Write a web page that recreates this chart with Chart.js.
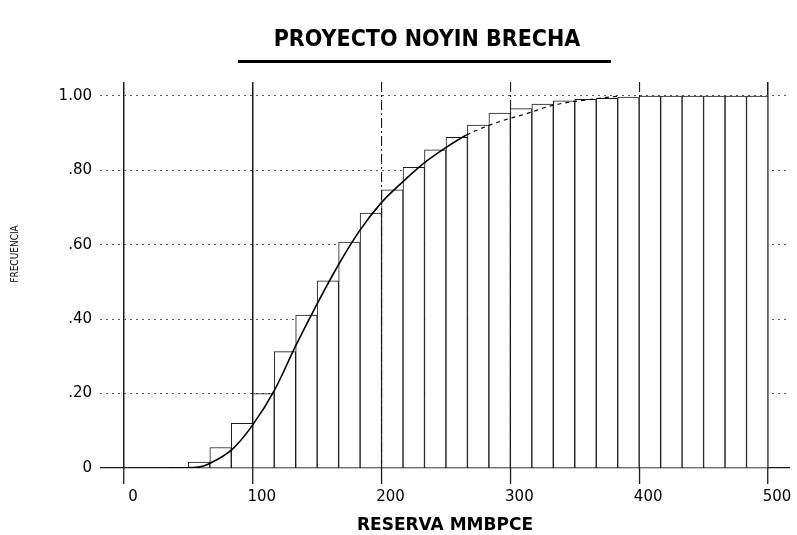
<!DOCTYPE html>
<html lang="es">
<head>
<meta charset="utf-8">
<title>Proyecto Noyin Brecha</title>
<script src="https://cdn.jsdelivr.net/npm/chart.js@4.4.1/dist/chart.umd.min.js"></script>
<style>
  html, body { margin: 0; padding: 0; background: #fff; }
  .chart-wrap { position: relative; width: 797px; height: 535px; }
</style>
</head>
<body>
<div class="chart-wrap"><canvas id="cdfChart"></canvas></div>
<script>
  "use strict";

  const BIN_WIDTH = 50 / 3;
  // left edge of each class, MMBPCE
  const binStart = [50, 66.67, 83.33, 100, 116.67, 133.33, 150, 166.67, 183.33,
    200, 216.67, 233.33, 250, 266.67, 283.33, 300, 316.67, 333.33, 350,
    366.67, 383.33, 400, 416.67, 433.33, 450, 466.67, 483.33];
  // cumulative frequency of each class
  const cumFreq = [0.016, 0.055, 0.12, 0.2, 0.313, 0.411, 0.503, 0.607, 0.685,
    0.748, 0.808, 0.855, 0.889, 0.922, 0.954, 0.966, 0.978, 0.987, 0.991,
    0.994, 0.997, 1, 1, 1, 1, 1, 1];

  // fitted curve
  const curveX = [35, 45, 59, 67, 84, 100, 117, 133, 151, 166, 183, 199, 216,
    232, 249, 266, 289, 313, 333, 360, 385];
  const curveY = [0, 0, 0.003, 0.013, 0.05, 0.116, 0.21, 0.326, 0.448, 0.543,
    0.638, 0.71, 0.768, 0.817, 0.859, 0.895, 0.928, 0.953, 0.975, 0.99, 1];

  const xTicks = [0, 100, 200, 300, 400, 500];
  const yTicks = [0, 0.2, 0.4, 0.6, 0.8, 1];

  const ink = "#1a1a1a";
  const condensed = '"DejaVu Sans Condensed", sans-serif';

  const headingPlugin = {
    id: "heading",
    afterDraw: (chart) => {
      const { ctx } = chart;
      ctx.save();
      ctx.fillStyle = "#000";
      ctx.textAlign = "center";
      ctx.textBaseline = "middle";
      ctx.font = "bold 23px " + condensed;
      ctx.fillText("PROYECTO NOYIN BRECHA", 427, 40);
      ctx.fillRect(238, 60, 373, 3);

      ctx.translate(15, 254);
      ctx.rotate(-Math.PI / 2);
      ctx.font = "10px " + condensed;
      ctx.fillText("FRECUENCIA", 0, 0);
      ctx.restore();
    },
  };

  const bars = binStart.map((x, i) => ({ x: x + BIN_WIDTH / 2, y: cumFreq[i] }));
  const curve = curveX.map((x, i) => ({ x: x, y: curveY[i] }));

  const tickVal = (ctx) => (ctx.tick ? ctx.tick.value : null);
  const solidX = (v) => v === 0 || v === 100 || v === 500;

  new Chart(document.getElementById("cdfChart"), {
    type: "bar",
    data: {
      datasets: [
        {
          type: "line",
          label: "curva",
          data: curve,
          order: 0,
          borderColor: "#000",
          borderWidth: 1.6,
          pointRadius: 0,
          fill: false,
          cubicInterpolationMode: "monotone",
          segment: {
            borderDash: (ctx) => (ctx.p0.parsed.x >= 266 ? [4, 4] : undefined),
            borderWidth: (ctx) => (ctx.p0.parsed.x >= 266 ? 1.2 : undefined),
          },
        },
        {
          type: "bar",
          label: "frecuencia",
          data: bars,
          order: 1,
          backgroundColor: "#ffffff",
          borderColor: ink,
          borderWidth: 1,
          barPercentage: 1,
          categoryPercentage: 1,
        },
      ],
    },
    options: {
      responsive: true,
      maintainAspectRatio: false,
      animation: false,
      layout: { padding: { top: 82, right: 7, bottom: 0, left: 0 } },
      plugins: {
        legend: { display: false },
        tooltip: { enabled: false },
        title: { display: false },
      },
      scales: {
        x: {
          type: "linear",
          offset: false,
          min: -18.6,
          max: 517.1,
          afterBuildTicks: (scale) => {
            scale.ticks = xTicks.map((v) => ({ value: v }));
          },
          afterFit: (scale) => {
            scale.height = 67;
          },
          grid: {
            offset: false,
            color: ink,
            tickColor: ink,
            lineWidth: (ctx) => (solidX(tickVal(ctx)) ? 1.5 : 1.1),
            tickWidth: 1.3,
            tickLength: 16,
          },
          border: {
            display: false,
            dash: (ctx) => (ctx.tick && !solidX(ctx.tick.value) ? [10, 3, 2, 3] : []),
          },
          ticks: {
            padding: 4,
            labelOffset: 9,
            maxRotation: 0,
            color: "#000",
            font: { family: "DejaVu Sans", size: 15 },
            callback: (v) => String(v),
          },
          title: {
            display: true,
            text: "RESERVA MMBPCE",
            color: "#000",
            font: { family: "DejaVu Sans", size: 17, weight: "bold", lineHeight: 1 },
            padding: { top: 0, bottom: 1 },
          },
        },
        y: {
          min: 0,
          max: 1.0376,
          afterBuildTicks: (scale) => {
            scale.ticks = yTicks.map((v) => ({ value: v }));
          },
          afterFit: (scale) => {
            scale.width = 100;
          },
          grid: {
            drawTicks: false,
            color: (ctx) => (tickVal(ctx) === 0 ? ink : "#555"),
            lineWidth: (ctx) => (tickVal(ctx) === 0 ? 1.2 : 1),
          },
          border: {
            display: false,
            dash: (ctx) => (ctx.tick && ctx.tick.value !== 0 ? [2, 4] : []),
          },
          ticks: {
            padding: 8,
            color: "#000",
            font: { family: "DejaVu Sans", size: 15 },
            callback: (v) => {
              if (v === 0) return "0";
              if (v === 1) return "1.00";
              return v.toFixed(2).slice(1);
            },
          },
        },
      },
    },
    plugins: [headingPlugin],
  });
</script>
</body>
</html>
